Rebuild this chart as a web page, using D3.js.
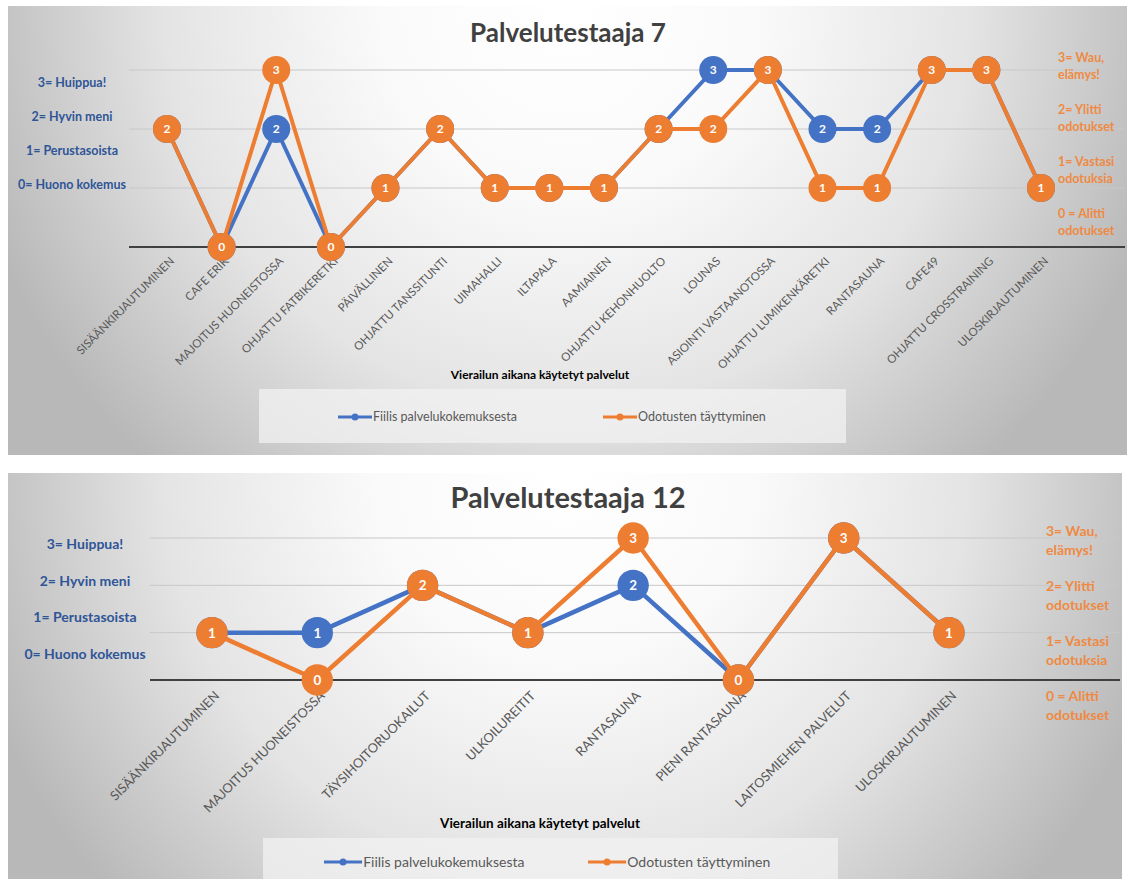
<!DOCTYPE html>
<html lang="fi">
<head>
    <meta charset="UTF-8">
    <title>Palvelutestaajat</title>
    <script src="https://cdn.jsdelivr.net/npm/d3@7"></script>
    <style>
        body { margin: 0; background: #fff; }
        svg { display: block; font-family: Lato, "Open Sans", sans-serif; }
        .title { font-weight: bold; fill: #404040; text-anchor: middle; }
        .grid { stroke: #c8c8c8; stroke-width: 1; }
        .base { stroke: #404040; stroke-width: 2; }
        .xlab { fill: #595959; text-anchor: end; }
        .axis-name { font-weight: bold; fill: #000; text-anchor: middle; }
        .left-lab { font-weight: bold; fill: #2f5597; text-anchor: middle; }
        .right-lab { font-weight: bold; fill: #ef8a44; }
        .pt-lab { font-weight: bold; fill: #fff; text-anchor: middle; }
        .leg-text { fill: #595959; }
    </style>
</head>
<body>
<script>
    // Palvelutestaaja 7
    const services7 = ['SISÄÄNKIRJAUTUMINEN', 'CAFE ERIK', 'MAJOITUS HUONEISTOSSA', 'OHJATTU FATBIKERETKI',
        'PÄIVÄLLINEN', 'OHJATTU TANSSITUNTI', 'UIMAHALLI', 'ILTAPALA', 'AAMIAINEN', 'OHJATTU KEHONHUOLTO',
        'LOUNAS', 'ASIOINTI VASTAANOTOSSA', 'OHJATTU LUMIKENKÄRETKI', 'RANTASAUNA', 'CAFE49',
        'OHJATTU CROSSTRAINING', 'ULOSKIRJAUTUMINEN'];
    const fiilis7 = [2, 0, 2, 0, 1, 2, 1, 1, 1, 2, 3, 3, 2, 2, 3, 3, 1];
    const odotus7 = [2, 0, 3, 0, 1, 2, 1, 1, 1, 2, 2, 3, 1, 1, 3, 3, 1];

    // Palvelutestaaja 12
    const services12 = ['SISÄÄNKIRJAUTUMINEN', 'MAJOITUS HUONEISTOSSA', 'TÄYSIHOITORUOKAILUT', 'ULKOILUREITIT',
        'RANTASAUNA', 'PIENI RANTASAUNA', 'LAITOSMIEHEN PALVELUT', 'ULOSKIRJAUTUMINEN'];
    const fiilis12 = [1, 1, 2, 1, 2, 0, 3, 1];
    const odotus12 = [1, 0, 2, 1, 3, 0, 3, 1];

    const leftLabels = ['3= Huippua!', '2= Hyvin meni', '1= Perustasoista', '0= Huono kokemus'];
    const rightLabels = [['3= Wau,', 'elämys!'], ['2= Ylitti', 'odotukset'], ['1= Vastasi', 'odotuksia'], ['0 = Alitti', 'odotukset']];
    const seriesNames = ['Fiilis palvelukokemuksesta', 'Odotusten täyttyminen'];
    const xTitle = 'Vierailun aikana käytetyt palvelut';

    const blue = '#4472c4', orange = '#ed7d31';

    const svg = d3.select('body').append('svg')
        .attr('width', 1127)
        .attr('height', 879);

    const defs = svg.append('defs');

    function drawChart(cfg) {
        const s = cfg.scale;
        const g = svg.append('g');
        const [bx, by, bw, bh] = cfg.box;

        // background: light in the top middle, grey toward the edges
        const grad = defs.append('radialGradient')
            .attr('id', cfg.id)
            .attr('gradientUnits', 'userSpaceOnUse')
            .attr('cx', bx + bw / 2).attr('cy', by)
            .attr('r', 620);
        grad.append('stop').attr('offset', '0%').attr('stop-color', '#ffffff');
        grad.append('stop').attr('offset', '30%').attr('stop-color', '#fafafa');
        grad.append('stop').attr('offset', '65%').attr('stop-color', '#e4e4e4');
        grad.append('stop').attr('offset', '100%').attr('stop-color', '#b8b8b8');

        g.append('rect')
            .attr('x', bx).attr('y', by)
            .attr('width', bw).attr('height', bh)
            .attr('fill', `url(#${cfg.id})`);

        g.append('text')
            .attr('class', 'title')
            .attr('x', 568).attr('y', cfg.titleY)
            .style('font-size', cfg.titleSize + 'px')
            .text(cfg.title);

        const x = d3.scalePoint()
            .domain(cfg.services)
            .range(cfg.xRange);

        const y = d3.scaleLinear()
            .domain([0, 3])
            .range(cfg.yRange);

        // grid lines
        g.selectAll('.grid')
            .data([1, 2, 3])
            .enter().append('line')
            .attr('class', 'grid')
            .attr('x1', cfg.gridX[0]).attr('x2', cfg.gridX[1])
            .attr('y1', d => y(d)).attr('y2', d => y(d));

        g.append('line')
            .attr('class', 'base')
            .attr('x1', cfg.gridX[0]).attr('x2', cfg.gridX[1])
            .attr('y1', y(0)).attr('y2', y(0));

        // category labels
        g.selectAll('.xlab')
            .data(cfg.services)
            .enter().append('text')
            .attr('class', 'xlab')
            .style('font-size', (11.5 * s) + 'px')
            .attr('transform', d => `translate(${x(d) + 5},${y(0) + 12 * s}) rotate(-45)`)
            .attr('dy', '0.35em')
            .text(d => d);

        const line = d3.line()
            .x((d, i) => x(cfg.services[i]))
            .y(d => y(d));

        [[cfg.fiilis, blue], [cfg.odotus, orange]].forEach(([vals, col]) => {
            g.append('path')
                .datum(vals)
                .attr('fill', 'none')
                .attr('stroke', col)
                .attr('stroke-width', 4 * s)
                .attr('stroke-linejoin', 'round')
                .attr('d', line);

            const pts = g.append('g').selectAll('g')
                .data(vals)
                .enter().append('g')
                .attr('transform', (d, i) => `translate(${x(cfg.services[i])},${y(d)})`);
            pts.append('circle')
                .attr('r', 14 * s)
                .attr('fill', col);
            pts.append('text')
                .attr('class', 'pt-lab')
                .style('font-size', (12 * s) + 'px')
                .attr('dy', '0.36em')
                .text(d => d);
        });

        // left legend text box
        g.selectAll('.left-lab')
            .data(leftLabels)
            .enter().append('text')
            .attr('class', 'left-lab')
            .style('font-size', (12.5 * s) + 'px')
            .attr('x', cfg.leftX)
            .attr('y', (d, i) => cfg.leftY[0] + i * cfg.leftY[1])
            .text(d => d);

        // right legend text box
        rightLabels.forEach((pair, i) => {
            pair.forEach((t, j) => {
                g.append('text')
                    .attr('class', 'right-lab')
                    .style('font-size', (12.5 * s) + 'px')
                    .attr('x', cfg.rightX)
                    .attr('y', cfg.rightY[0] + i * cfg.rightY[1] + j * cfg.rightY[2])
                    .text(t);
            });
        });

        g.append('text')
            .attr('class', 'axis-name')
            .style('font-size', (12 * s) + 'px')
            .attr('x', 540).attr('y', cfg.xTitleY)
            .text(xTitle);

        // legend
        const lb = cfg.legendBox;
        g.append('rect')
            .attr('x', lb[0]).attr('y', lb[1])
            .attr('width', lb[2]).attr('height', lb[3])
            .attr('fill', '#f2f2f2')
            .attr('fill-opacity', 0.75);

        [blue, orange].forEach((col, i) => {
            const lx = cfg.legendX[i], ly = lb[1] + cfg.legendDy;
            g.append('line')
                .attr('x1', lx).attr('x2', lx + 34 * s)
                .attr('y1', ly).attr('y2', ly)
                .attr('stroke', col).attr('stroke-width', 3);
            g.append('circle')
                .attr('cx', lx + 17 * s).attr('cy', ly).attr('r', 3.5)
                .attr('fill', col);
            g.append('text')
                .attr('class', 'leg-text')
                .style('font-size', (12.5 * s) + 'px')
                .attr('x', lx + 35 * s).attr('y', ly)
                .attr('dy', '0.35em')
                .text(seriesNames[i]);
        });
    }

    drawChart({
        id: 'bg7', scale: 1,
        title: 'Palvelutestaaja 7', titleSize: 26,
        services: services7, fiilis: fiilis7, odotus: odotus7,
        box: [8, 6, 1119, 449],
        titleY: 42,
        xRange: [167, 1041],
        yRange: [247, 70],
        gridX: [129, 1125],
        leftX: 72, leftY: [87, 34],
        rightX: 1058, rightY: [62, 52, 17],
        xTitleY: 379,
        legendBox: [259, 389, 587, 54],
        legendX: [338, 603],
        legendDy: 28
    });

    drawChart({
        id: 'bg12', scale: 1.12,
        title: 'Palvelutestaaja 12', titleSize: 29,
        services: services12, fiilis: fiilis12, odotus: odotus12,
        box: [8, 473, 1114, 406],
        titleY: 508,
        xRange: [212, 949],
        yRange: [680, 538],
        gridX: [150, 1120],
        leftX: 85, leftY: [549, 36.5],
        rightX: 1046, rightY: [536, 55, 19],
        xTitleY: 828,
        legendBox: [263, 838, 575, 41],
        legendX: [324, 588],
        legendDy: 24
    });
</script>
</body>
</html>
